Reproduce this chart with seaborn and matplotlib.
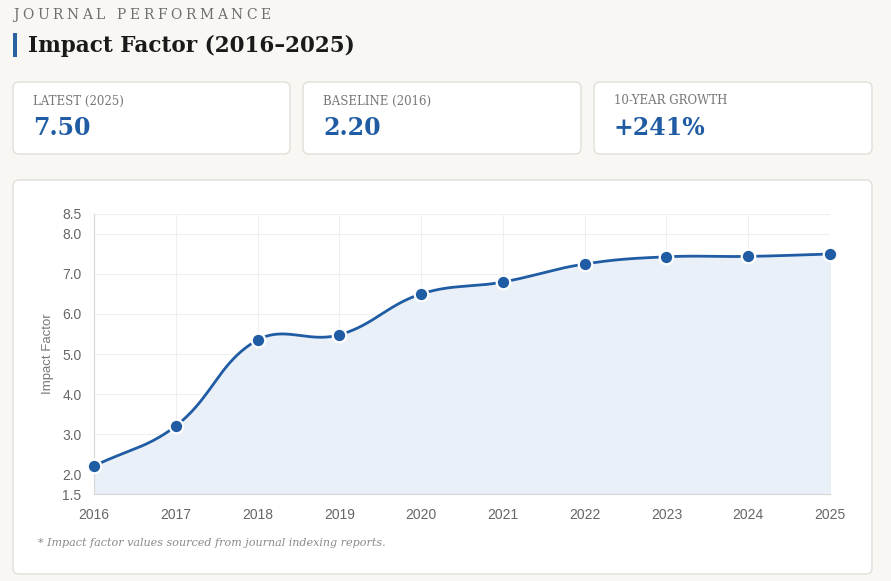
import numpy as np
import pandas as pd
import matplotlib.pyplot as plt
from matplotlib.patches import FancyBboxPatch, Rectangle
import seaborn as sns

# data
years = [2016, 2017, 2018, 2019, 2020, 2021, 2022, 2023, 2024, 2025]
impact = [2.20, 3.20, 5.35, 5.48, 6.50, 6.80, 7.25, 7.43, 7.44, 7.50]
y_ticks = [1.5, 2.0, 3.0, 4.0, 5.0, 6.0, 7.0, 8.0, 8.5]

df = pd.DataFrame({'Year': years, 'Impact Factor': impact})

latest = impact[-1]
baseline = impact[0]
growth = (latest - baseline) / baseline * 100

sns.set_style('white')
plt.rcParams['font.family'] = ['DejaVu Serif']

BG = '#f8f7f4'
BLUE = '#1f5ca3'
W, H = 891, 581

fig = plt.figure(figsize=(W / 100, H / 100), dpi=100, facecolor=BG)

# overlay in pixel coordinates for cards and header texts
bg = fig.add_axes([0, 0, 1, 1], zorder=0)
bg.set_xlim(0, W)
bg.set_ylim(H, 0)
bg.axis('off')


def card(x0, y0, x1, y1):
    bg.add_patch(FancyBboxPatch((x0, y0), x1 - x0, y1 - y0,
                                boxstyle='round,pad=0,rounding_size=6',
                                facecolor='white', edgecolor='#e2dfd8', linewidth=1))


def spaced(x, y, s, spacing, **kw):
    # draw text with letter spacing, char by char
    r = fig.canvas.get_renderer()
    for ch in s:
        t = bg.text(x, y, ch, **kw)
        bb = t.get_window_extent(renderer=r)
        x += bb.width + spacing


spaced(13, 15, 'JOURNAL PERFORMANCE', 3.6, fontsize=10, color='#6e6e6e', va='center')
bg.add_patch(Rectangle((13, 33), 4, 24, facecolor='#2a62a0', edgecolor='none'))
bg.text(28, 45.5, 'Impact Factor (2016\u20132025)', fontsize=15.5, fontweight='bold',
        color='#1a1a1a', va='center')

cards = [(13, 290, 'LATEST (2025)', f'{latest:.2f}'),
         (303, 581, 'BASELINE (2016)', f'{baseline:.2f}'),
         (594, 872, '10-YEAR GROWTH', f'+{growth:.0f}%')]
for x0, x1, lab, val in cards:
    card(x0, 82, x1, 154)
    bg.text(x0 + 20, 101, lab, fontsize=8.5, color='#777777', va='center')
    bg.text(x0 + 20, 128, val, fontsize=17, fontweight='bold', color=BLUE, va='center')

card(13, 180, 872, 574)
bg.text(38, 543, '* Impact factor values sourced from journal indexing reports.',
        fontsize=8, style='italic', color='#8a8a8a', va='center')

# chart axes
ax = fig.add_axes([94 / W, 87 / H, 736 / W, 280 / H], zorder=1)
ax.set_facecolor('white')

# smooth curve like a tension 0.4 bezier spline, built in pixel space
sx, sy = 736 / 9, 40.0
px = (np.array(years) - years[0]) * sx
py = np.array(impact) * sy
n = len(px)
tension = 0.4
cp_prev, cp_next = [], []
for i in range(n):
    p0 = (px[max(i - 1, 0)], py[max(i - 1, 0)])
    p1 = (px[i], py[i])
    p2 = (px[min(i + 1, n - 1)], py[min(i + 1, n - 1)])
    d01 = np.hypot(p1[0] - p0[0], p1[1] - p0[1])
    d12 = np.hypot(p2[0] - p1[0], p2[1] - p1[1])
    s01 = d01 / (d01 + d12) if d01 + d12 else 0
    s12 = d12 / (d01 + d12) if d01 + d12 else 0
    fa, fb = tension * s01, tension * s12
    cp_prev.append((p1[0] - fa * (p2[0] - p0[0]), p1[1] - fa * (p2[1] - p0[1])))
    cp_next.append((p1[0] + fb * (p2[0] - p0[0]), p1[1] + fb * (p2[1] - p0[1])))

cx, cy = [], []
tt = np.linspace(0, 1, 40)
for i in range(n - 1):
    a = np.array([px[i], py[i]])
    b = np.array(cp_next[i])
    c = np.array(cp_prev[i + 1])
    d = np.array([px[i + 1], py[i + 1]])
    pts = ((1 - tt) ** 3)[:, None] * a + (3 * (1 - tt) ** 2 * tt)[:, None] * b \
        + (3 * (1 - tt) * tt ** 2)[:, None] * c + (tt ** 3)[:, None] * d
    cx.extend(pts[:, 0] / sx + years[0])
    cy.extend(pts[:, 1] / sy)
curve = pd.DataFrame({'Year': cx, 'Impact Factor': cy})

ax.fill_between(curve['Year'], curve['Impact Factor'], 1.5, color='#eaf0f8', zorder=1)
sns.lineplot(data=curve, x='Year', y='Impact Factor', sort=False, color=BLUE,
             linewidth=2.0, ax=ax, zorder=3)
sns.scatterplot(data=df, x='Year', y='Impact Factor', color=BLUE, s=95,
                edgecolor='white', linewidth=1.6, ax=ax, zorder=4, clip_on=False)

ax.set_xlim(2016, 2025)
ax.set_ylim(1.5, 8.5)
ax.set_xticks(years)
ax.set_yticks(y_ticks)
ax.set_yticklabels([f'{v:.1f}' for v in y_ticks])
for lab in ax.get_xticklabels() + ax.get_yticklabels():
    lab.set_family('Liberation Sans')
ax.tick_params(axis='both', colors='#666666', labelsize=10, length=5, width=0.8)
ax.tick_params(axis='x', length=0, pad=10)
ax.tick_params(axis='y', color='#d6d6d6', pad=4)
ax.grid(True, color='#efefef', linewidth=0.8)
ax.set_axisbelow(True)
for side in ['top', 'right']:
    ax.spines[side].set_visible(False)
for side in ['left', 'bottom']:
    ax.spines[side].set_color('#d6d6d6')
    ax.spines[side].set_linewidth(0.8)
ax.set_xlabel('')
ax.set_ylabel('Impact Factor', family='Liberation Sans', fontsize=9.5,
              color='#777777', labelpad=6)

fig.savefig('out.png', dpi=100, facecolor=BG)
